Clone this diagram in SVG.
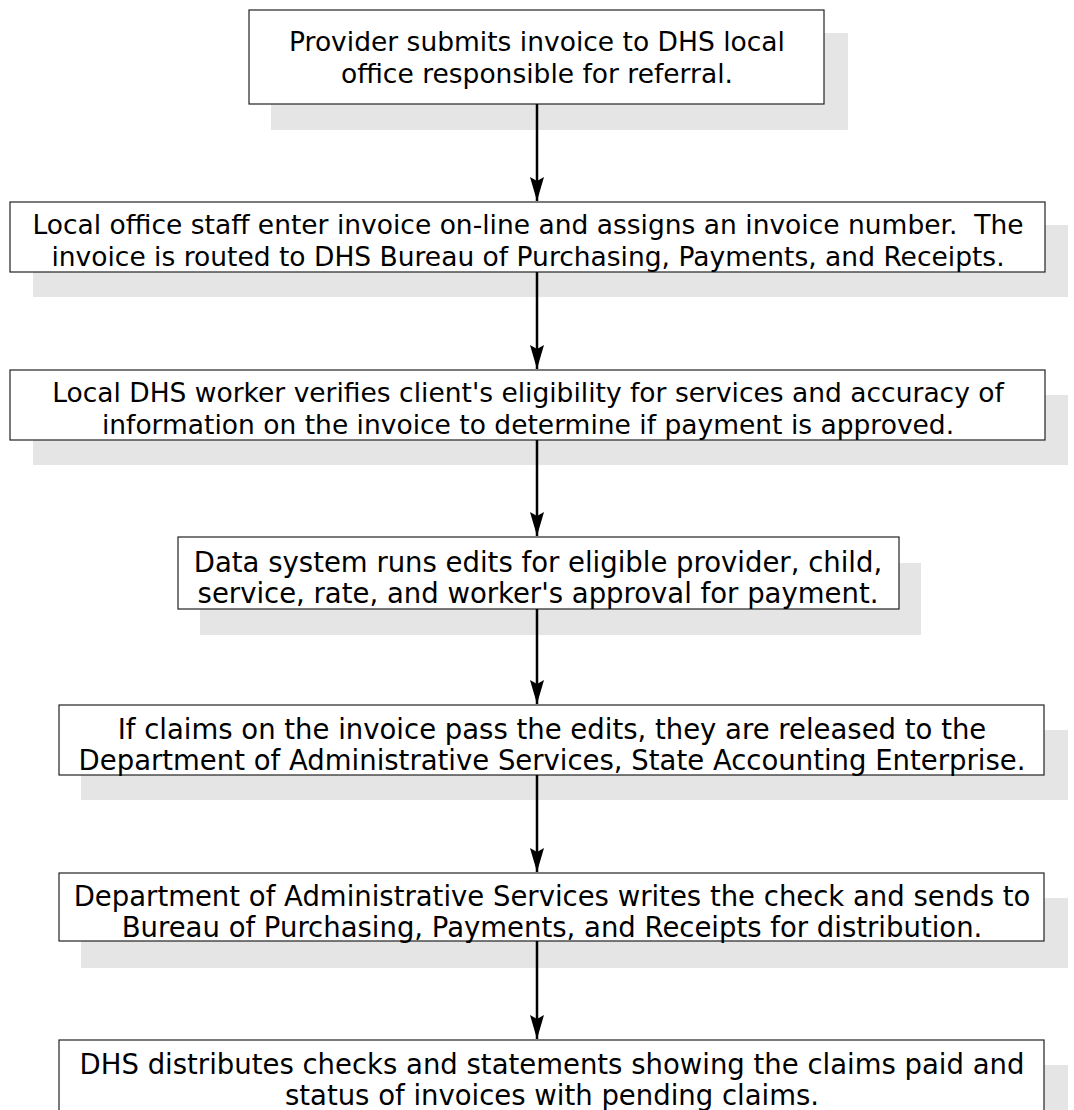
<svg xmlns="http://www.w3.org/2000/svg" width="1074" height="1110" viewBox="0 0 1074 1110">
<style>
.sh{fill:#e5e5e5}
.bx{fill:#fff;stroke:#222;stroke-width:1.2}
.t1{font-family:"DejaVu Sans",Verdana,sans-serif;font-size:26.5px;fill:#000;text-anchor:middle}
.t2{font-family:"DejaVu Sans",Verdana,sans-serif;font-size:27.5px;fill:#000;text-anchor:middle}
.ar{stroke:#000;stroke-width:2.5;fill:none}
</style>
<defs>
<marker id="ah" markerWidth="24" markerHeight="14" refX="24" refY="7" orient="auto" markerUnits="userSpaceOnUse" viewBox="0 0 24 14">
<path d="M0,0 L4,7 L0,14 L24,7 Z" fill="#000"/>
</marker>
</defs>
<rect width="1074" height="1110" fill="#fff"/>
<g id="n1"><rect class="sh" x="271" y="33" width="577" height="97"/><rect class="bx" x="249" y="10" width="575" height="94"/>
<text class="t1" x="537" y="51">Provider submits invoice to DHS local</text><text class="t1" x="537" y="83">office responsible for referral.</text></g>
<g id="n2"><rect class="sh" x="33" y="225" width="1035" height="72"/><rect class="bx" x="10" y="202" width="1035" height="70"/>
<text class="t1" x="528" y="233.5" xml:space="preserve">Local office staff enter invoice on-line and assigns an invoice number.  The</text><text class="t1" x="528" y="265.5">invoice is routed to DHS Bureau of Purchasing, Payments, and Receipts.</text></g>
<g id="n3"><rect class="sh" x="33" y="395" width="1035" height="70"/><rect class="bx" x="10" y="370" width="1035" height="70"/>
<text class="t1" x="528" y="401.5">Local DHS worker verifies client's eligibility for services and accuracy of</text><text class="t1" x="528" y="433.5">information on the invoice to determine if payment is approved.</text></g>
<g id="n4"><rect class="sh" x="200" y="563" width="721" height="72"/><rect class="bx" x="178" y="537" width="721" height="72"/>
<text class="t2" x="538" y="571.5">Data system runs edits for eligible provider, child,</text><text class="t2" x="538" y="603">service, rate, and worker's approval for payment.</text></g>
<g id="n5"><rect class="sh" x="81" y="730" width="987" height="70"/><rect class="bx" x="59" y="705" width="985" height="70"/>
<text class="t2" x="552" y="738.5">If claims on the invoice pass the edits, they are released to the</text><text class="t2" x="552" y="770">Department of Administrative Services, State Accounting Enterprise.</text></g>
<g id="n6"><rect class="sh" x="81" y="898" width="987" height="70"/><rect class="bx" x="59" y="873" width="985" height="68"/>
<text class="t2" x="552" y="905.5">Department of Administrative Services writes the check and sends to</text><text class="t2" x="552" y="937">Bureau of Purchasing, Payments, and Receipts for distribution.</text></g>
<g id="n7"><rect class="sh" x="81" y="1065" width="987" height="60"/><rect class="bx" x="59" y="1040" width="985" height="80"/>
<text class="t2" x="552" y="1074">DHS distributes checks and statements showing the claims paid and</text><text class="t2" x="552" y="1105">status of invoices with pending claims.</text></g>
<g id="connectors">
<line class="ar" x1="537" y1="104" x2="537" y2="201" marker-end="url(#ah)"/>
<line class="ar" x1="537" y1="272" x2="537" y2="369" marker-end="url(#ah)"/>
<line class="ar" x1="537" y1="440" x2="537" y2="536" marker-end="url(#ah)"/>
<line class="ar" x1="537" y1="609" x2="537" y2="704" marker-end="url(#ah)"/>
<line class="ar" x1="537" y1="775" x2="537" y2="872" marker-end="url(#ah)"/>
<line class="ar" x1="537" y1="941" x2="537" y2="1039" marker-end="url(#ah)"/>
</g>
</svg>
